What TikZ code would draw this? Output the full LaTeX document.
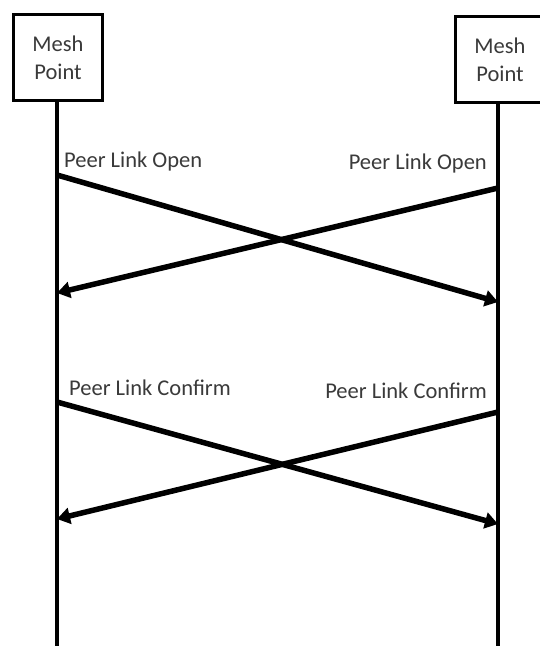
\documentclass[tikz,border=0pt]{standalone}
\usepackage{fontspec}
\setmainfont{Carlito}
\usetikzlibrary{arrows.meta}
\definecolor{txt}{HTML}{3A3A3A}
\begin{document}
\begin{tikzpicture}[x=1pt,y=-1pt,
  mpbox/.style={draw=black, line width=3.5pt, minimum width=89pt, minimum height=86pt, inner sep=0pt, align=center, font=\fontsize{22.5}{28}\selectfont, text=txt},
  life/.style={line width=3.5pt},
  msg/.style={line width=5.5pt, -{Triangle[length=13pt,width=16pt]}},
  lbl/.style={font=\fontsize{22.5}{26}\selectfont, text=txt, inner sep=0pt}]
\useasboundingbox (0,0) rectangle (539,646);
\fill[white] (0,0) rectangle (539,646);
\node[mpbox] (mpl) at (58,57.5) {Mesh\\Point};
\node[mpbox] (mpr) at (500,59.5) {Mesh\\Point};
\coordinate (ll) at (57,650);
\coordinate (rl) at (498,650);
\draw[life] (mpl.south -| ll) -- (ll);
\draw[life] (mpr.south -| rl) -- (rl);
% message end points on lifelines
\coordinate (o1s) at (57,175);
\coordinate (o1e) at (498,302);
\coordinate (o2s) at (498,188);
\coordinate (o2e) at (57,293);
\coordinate (c1s) at (57,402);
\coordinate (c1e) at (498,524);
\coordinate (c2s) at (498,412);
\coordinate (c2e) at (57,519);
\draw[msg] (o1s) -- (o1e);
\draw[msg] (o2s) -- (o2e);
\draw[msg] (c1s) -- (c1e);
\draw[msg] (c2s) -- (c2e);
\node[lbl, anchor=west] (l1) at (64,161) {Peer Link Open};
\node[lbl, anchor=east] (l2) at (487,163) {Peer Link Open};
\node[lbl, anchor=west] (l3) at (69,388) {Peer Link Confirm};
\node[lbl, anchor=east] (l4) at (487,391) {Peer Link Confirm};
\end{tikzpicture}
\end{document}
